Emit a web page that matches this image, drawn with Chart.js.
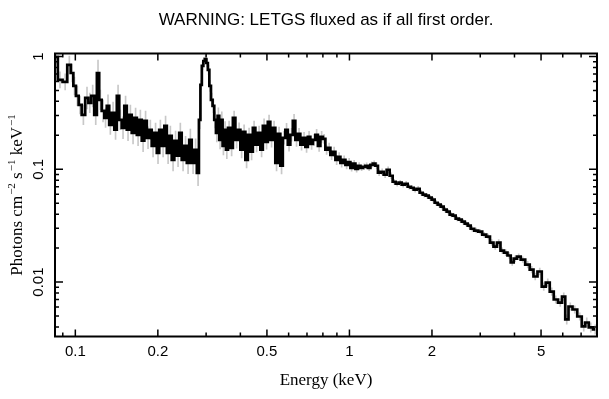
<!DOCTYPE html>
<html><head><meta charset="utf-8">
<script src="https://cdn.jsdelivr.net/npm/chart.js@4.4.1/dist/chart.umd.min.js"></script>
<style>html,body{margin:0;padding:0;background:#fff}#wrap{width:609px;height:399px}</style>
</head><body><div id="wrap"><canvas id="c" width="609" height="399"></canvas></div>
<script>
const titleText = 'WARNING: LETGS fluxed as if all first order.';
const xTitle = 'Energy (keV)';
const yTitleParts = [['Photons cm',0],['\u22122',1],[' s',0],['\u22121',1],[' keV',0],['\u22121',1]];

const energies = [
0.0848,0.0879,0.0918,0.0951,0.0974,0.0993,0.1017,0.1040,0.1070,0.1103,
0.1129,0.1157,0.1187,0.1210,0.1234,0.1262,0.1289,0.1316,0.1342,0.1373,
0.1402,0.1432,0.1460,0.1493,0.1525,0.1557,0.1588,0.1624,0.1659,0.1694,
0.1727,0.1767,0.1804,0.1842,0.1878,0.1921,0.1962,0.2003,0.2043,0.2090,
0.2134,0.2180,0.2222,0.2273,0.2321,0.2370,0.2416,0.2472,0.2524,0.2578,
0.2628,0.2689,0.2746,0.2804,0.2844,0.2876,0.2912,0.2949,0.2987,0.3025,
0.3063,0.3102,0.3147,0.3189,0.3235,0.3282,0.3326,0.3374,0.3422,0.3469,
0.3519,0.3570,0.3639,0.3717,0.3796,0.3876,0.3958,0.4043,0.4128,0.4215,
0.4304,0.4396,0.4489,0.4584,0.4681,0.4781,0.4882,0.4985,0.5090,0.5199,
0.5309,0.5421,0.5536,0.5654,0.5774,0.5896,0.6021,0.6150,0.6280,0.6413,
0.6549,0.6688,0.6831,0.6976,0.7124,0.7278,0.7433,0.7591,0.7752,0.7917,
0.8084,0.8256,0.8431,0.8610,0.8794,0.8981,0.9171,0.9365,0.9565,0.9768,
0.9975,1.0186,1.0404,1.0624,1.0849,1.1078,1.1313,1.1555,1.1800,1.2050,
1.2306,1.2569,1.2836,1.3161,1.3498,1.3841,1.4196,1.4558,1.4931,1.5311,
1.5704,1.6103,1.6515,1.6935,1.7368,1.7810,1.8266,1.8731,1.9210,1.9699,
2.0203,2.0717,2.1247,2.1788,2.2346,2.2915,2.3501,2.4099,2.4716,2.5351,
2.6002,2.6664,2.7347,2.8043,2.9002,2.9992,3.1016,3.2075,3.3037,3.4025,
3.5037,3.6083,3.7161,3.8270,3.9243,4.0239,4.1442,4.2860,4.4703,4.6238,
4.7613,4.9454,5.1146,5.2895,5.4702,5.6572,5.8749,6.0509,6.2044,6.3900,
6.6362,6.9204,7.1571,7.3408,7.5917,7.8840
];

const flux = [
0.990,0.620,0.595,0.841,0.714,0.548,0.447,0.372,0.304,0.429,
0.388,0.447,0.304,0.714,0.412,0.329,0.286,0.365,0.248,0.316,
0.224,0.447,0.274,0.233,0.365,0.224,0.304,0.210,0.286,0.202,
0.274,0.179,0.269,0.190,0.224,0.161,0.210,0.140,0.224,0.161,
0.243,0.140,0.198,0.121,0.179,0.132,0.210,0.121,0.161,0.114,
0.182,0.114,0.149,0.093,0.274,0.560,0.824,0.912,0.950,0.876,
0.760,0.548,0.412,0.365,0.274,0.210,0.297,0.182,0.274,0.161,
0.224,0.149,0.233,0.155,0.286,0.182,0.224,0.149,0.215,0.121,
0.202,0.143,0.233,0.165,0.210,0.149,0.243,0.175,0.263,0.182,
0.233,0.114,0.206,0.1074,0.190,0.224,0.165,0.202,0.269,0.182,
0.206,0.165,0.190,0.158,0.194,0.168,0.182,0.202,0.161,0.194,
0.186,0.149,0.155,0.134,0.143,0.121,0.129,0.114,0.121,0.1096,
0.116,0.1031,0.112,0.1010,0.1074,0.1031,0.1052,0.1074,0.1031,0.1096,
0.112,0.1074,0.0931,0.0950,0.0894,0.0990,0.0876,0.0775,0.0744,0.0760,
0.0730,0.0744,0.0700,0.0686,0.0659,0.0672,0.0619,0.0595,0.0583,0.0560,
0.0537,0.0505,0.0485,0.0466,0.0438,0.0421,0.0396,0.0388,0.0365,0.0357,
0.0343,0.0330,0.0316,0.0297,0.0286,0.0280,0.0263,0.0253,0.0224,0.0206,
0.0224,0.0190,0.0182,0.0172,0.0149,0.0161,0.0168,0.0158,0.0143,0.0129,
0.0112,0.0124,0.00912,0.0099,0.00824,0.00700,0.00658,0.00744,0.00466,0.00607,
0.00571,0.00495,0.00404,0.00438,0.00396,0.00380
];

const relErr = [
0.15,0.18,0.18,0.20,0.20,0.20,0.22,0.20,0.22,0.25,
0.22,0.25,0.22,0.30,0.22,0.25,0.22,0.25,0.22,0.25,
0.22,0.25,0.22,0.25,0.22,0.25,0.22,0.25,0.22,0.25,
0.22,0.25,0.22,0.25,0.22,0.25,0.22,0.25,0.22,0.25,
0.22,0.25,0.22,0.25,0.22,0.25,0.22,0.25,0.22,0.25,
0.25,0.25,0.25,0.30,0.20,0.10,0.08,0.08,0.08,0.08,
0.10,0.12,0.15,0.15,0.18,0.20,0.18,0.20,0.18,0.20,
0.18,0.20,0.15,0.18,0.15,0.18,0.15,0.18,0.15,0.18,
0.15,0.18,0.15,0.16,0.15,0.16,0.15,0.16,0.15,0.16,
0.15,0.18,0.15,0.18,0.14,0.14,0.14,0.14,0.14,0.14,
0.12,0.12,0.12,0.12,0.12,0.12,0.12,0.12,0.12,0.12,
0.10,0.10,0.10,0.10,0.10,0.10,0.09,0.09,0.09,0.09,
0.08,0.07,0.07,0.07,0.07,0.06,0.06,0.06,0.06,0.06,
0.06,0.06,0.06,0.06,0.06,0.06,0.06,0.05,0.05,0.05,
0.05,0.05,0.05,0.05,0.05,0.05,0.05,0.05,0.05,0.05,
0.05,0.05,0.05,0.05,0.05,0.05,0.05,0.05,0.05,0.05,
0.05,0.05,0.05,0.05,0.05,0.05,0.05,0.05,0.06,0.06,
0.06,0.06,0.06,0.06,0.06,0.06,0.06,0.06,0.07,0.07,
0.07,0.07,0.08,0.08,0.08,0.08,0.08,0.08,0.10,0.08,
0.08,0.08,0.10,0.10,0.10,0.10
];

const xMin = 0.0843, xMax = 8.0;
const yMin = 0.00329, yMax = 1.063;
const xMajor = [0.1, 0.2, 0.5, 1, 2, 5];
const xMinor = [0.09, 0.3, 0.4, 0.6, 0.7, 0.8, 0.9, 3, 4, 6, 7, 8];
const yMajor = [0.01, 0.1, 1];
const yMinor = [0.004,0.005,0.006,0.007,0.008,0.009,0.02,0.03,0.04,0.05,0.06,0.07,0.08,0.09,0.2,0.3,0.4,0.5,0.6,0.7,0.8,0.9];

const decor = {
  id: 'decor',
  afterDraw(chart) {
    const {ctx, chartArea: ca, scales} = chart;
    const xs = scales.x, ys = scales.y;
    ctx.save();
    ctx.strokeStyle = '#000';
    ctx.lineWidth = 1.5;
    ctx.beginPath();
    const xt = (v, len) => {
      const p = xs.getPixelForValue(v);
      if (p < ca.left || p > ca.right) return;
      ctx.moveTo(p, ca.bottom); ctx.lineTo(p, ca.bottom - len);
      ctx.moveTo(p, ca.top); ctx.lineTo(p, ca.top + len);
    };
    const yt = (v, len) => {
      const p = ys.getPixelForValue(v);
      if (p < ca.top || p > ca.bottom) return;
      ctx.moveTo(ca.left, p); ctx.lineTo(ca.left + len, p);
      ctx.moveTo(ca.right, p); ctx.lineTo(ca.right - len, p);
    };
    xMajor.forEach(v => xt(v, 7));
    xMinor.forEach(v => xt(v, 4));
    yMajor.forEach(v => yt(v, 8));
    yMinor.forEach(v => yt(v, 4));
    ctx.stroke();
    ctx.lineWidth = 2;
    ctx.strokeRect(ca.left, ca.top, ca.right - ca.left, ca.bottom - ca.top);

    ctx.fillStyle = '#000';
    ctx.font = '17px "Liberation Sans"';
    ctx.textAlign = 'center';
    ctx.textBaseline = 'middle';
    ctx.fillText(titleText, (ca.left + ca.right) / 2, 20);

    // y axis title with superscripts
    const big = '17px "Liberation Serif"', small = '11px "Liberation Serif"';
    let total = 0;
    yTitleParts.forEach(([t, s]) => { ctx.font = s ? small : big; total += ctx.measureText(t).width + (s ? 1 : 0); });
    ctx.translate(18, (ca.top + ca.bottom) / 2);
    ctx.rotate(-Math.PI / 2);
    ctx.textAlign = 'left';
    let cx = -total / 2;
    yTitleParts.forEach(([t, s]) => {
      ctx.font = s ? small : big;
      ctx.fillText(t, cx + (s ? 1 : 0), s ? -6 : 0);
      cx += ctx.measureText(t).width + (s ? 1 : 0);
    });
    ctx.restore();
  }
};

const errData = energies.map((e, i) => ({x: e, y: [flux[i] / (1 + relErr[i]), flux[i] * (1 + relErr[i])]}));
const lineData = energies.map((e, i) => ({x: e, y: flux[i]}));

new Chart(document.getElementById('c'), {
  type: 'line',
  data: {
    datasets: [
      {type: 'bar', data: errData, backgroundColor: '#c8c8c8', barThickness: 1, grouped: false, order: 2},
      {type: 'line', data: lineData, borderColor: '#000', borderWidth: 2.7, stepped: 'middle', pointRadius: 0, fill: false, order: 1}
    ]
  },
  options: {
    responsive: false,
    animation: false,
    devicePixelRatio: 1,
    layout: {padding: {top: 53.5, right: 12, left: 0, bottom: 0}},
    plugins: {legend: {display: false}, tooltip: {enabled: false}, title: {display: false}},
    scales: {
      x: {
        type: 'logarithmic', position: 'bottom', min: xMin, max: xMax,
        grid: {display: false, drawTicks: false}, border: {display: false},
        afterBuildTicks: s => { s.ticks = xMajor.map(v => ({value: v})); },
        afterFit: s => { s.height = 62.5; },
        ticks: {autoSkip: false, maxRotation: 0, minRotation: 0, padding: 6, color: '#000',
          font: {family: 'Liberation Sans', size: 15}, callback: v => String(v)},
        title: {display: true, text: xTitle, color: '#000', font: {family: 'Liberation Serif', size: 17}, padding: {top: 0, bottom: 8}}
      },
      y: {
        type: 'logarithmic', position: 'left', min: yMin, max: yMax,
        grid: {display: false, drawTicks: false}, border: {display: false},
        afterBuildTicks: s => { s.ticks = yMajor.map(v => ({value: v})); },
        afterFit: s => { s.width = 55; },
        ticks: {autoSkip: false, minRotation: 90, maxRotation: 90, crossAlign: 'center', padding: 2, color: '#000',
          font: {family: 'Liberation Sans', size: 15}, callback: v => String(v)}
      }
    }
  },
  plugins: [decor]
});
</script>
</body></html>
